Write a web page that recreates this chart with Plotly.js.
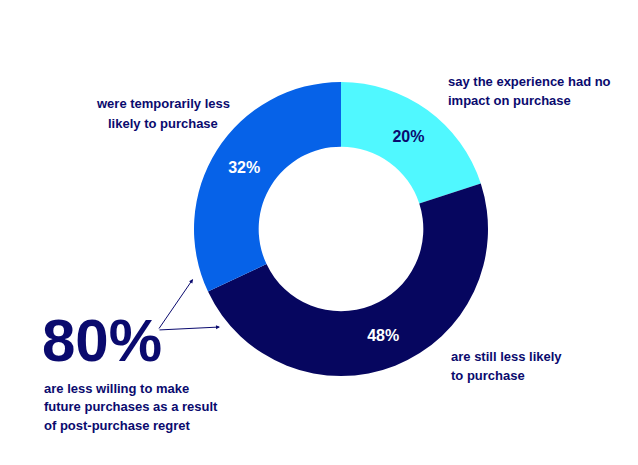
<!DOCTYPE html>
<html>
<head>
<meta charset="utf-8">
<script src="https://cdn.plot.ly/plotly-3.0.1.min.js"></script>
<style>html,body{margin:0;padding:0;background:#fff;}#chart{width:638px;height:465px;}</style>
</head>
<body>
<div id="chart"></div>
<script>
// Data
var sliceLabels = ['say the experience had no impact on purchase', 'are still less likely to purchase', 'were temporarily less likely to purchase'];
var sliceValues = [20, 48, 32];
var sliceColors = ['#50F8FF', '#06065F', '#0662E8'];
var sliceTextColors = ['#0a0a6e', '#ffffff', '#ffffff'];

var headline = '80%';
var calloutCyan = ['say the experience had no', 'impact on purchase'];
var calloutBlue = ['were temporarily less', 'likely to purchase'];
var calloutNavy = ['are still less likely', 'to purchase'];
var calloutMain = ['are less willing to make', 'future purchases as a result', 'of post-purchase regret'];

var W = 638, H = 465;
var navyText = '#0a0a6e';
function px(x){return x / W;}
function py(y){return 1 - y / H;}

var annotations = [];
function addLines(lines, x, y0, dy, xanchor){
  lines.forEach(function(t, i){
    annotations.push({
      text: t, xref: 'paper', yref: 'paper', x: px(x), y: py(y0 + i * dy),
      xanchor: xanchor, yanchor: 'middle', showarrow: false,
      font: {family: 'Liberation Sans, Arial, sans-serif', size: 13, color: navyText, weight: 'bold'}
    });
  });
}
addLines(calloutCyan, 446, 82, 19, 'left');
addLines(calloutBlue, 163, 104, 20, 'center');
addLines(calloutNavy, 449, 356, 19, 'left');
addLines(calloutMain, 42, 388, 18.5, 'left');

annotations.push({
  text: headline, xref: 'paper', yref: 'paper', x: px(40), y: py(340),
  xanchor: 'left', yanchor: 'middle', showarrow: false,
  font: {family: 'Liberation Sans, Arial, sans-serif', size: 60, color: navyText, weight: 'bold'}
});
// arrows
annotations.push({
  text: '', xref: 'paper', yref: 'paper', x: px(193), y: py(279), ax: -35, ay: 51,
  showarrow: true, arrowhead: 2, arrowsize: 0.8, arrowwidth: 1, arrowcolor: navyText
});
annotations.push({
  text: '', xref: 'paper', yref: 'paper', x: px(220), y: py(327), ax: -62, ay: 3,
  showarrow: true, arrowhead: 2, arrowsize: 0.8, arrowwidth: 1, arrowcolor: navyText
});

var trace = {
  type: 'pie',
  labels: sliceLabels,
  values: sliceValues,
  hole: 0.56,
  sort: false,
  direction: 'clockwise',
  rotation: 0,
  marker: {colors: sliceColors, line: {width: 0}},
  textinfo: 'percent',
  texttemplate: '%{value}%',
  textposition: 'inside',
  insidetextorientation: 'horizontal',
  textfont: {family: 'Liberation Sans, Arial, sans-serif', size: 16, color: sliceTextColors, weight: 'bold'},
  hoverinfo: 'label+value',
  domain: {x: [px(194), px(488)], y: [py(376), py(82)]}
};

var layout = {
  width: W, height: H,
  margin: {l: 0, r: 0, t: 0, b: 0},
  showlegend: false,
  paper_bgcolor: '#ffffff',
  annotations: annotations
};

Plotly.newPlot('chart', [trace], layout, {displayModeBar: false, staticPlot: true});
</script>
</body>
</html>
